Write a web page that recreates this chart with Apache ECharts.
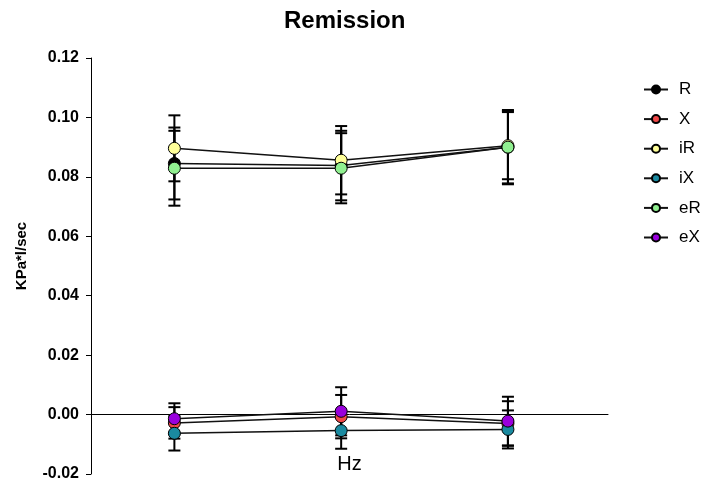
<!DOCTYPE html>
<html>
<head>
<meta charset="utf-8">
<script src="https://cdn.jsdelivr.net/npm/echarts@6/dist/echarts.min.js"></script>
<style>
html,body{margin:0;padding:0;background:#fff;}
#chart{width:708px;height:483px;}
</style>
</head>
<body>
<div id="chart"></div>
<script>
// ---- data ----
const categories = [1, 2, 3];
const seriesNames = ['R', 'X', 'iR', 'iX', 'eR', 'eX'];
const R_mean  = [0.0845, 0.0838, 0.0900];
const R_sd    = [0.0121, 0.0117, 0.0125];
const X_mean  = [-0.0028, -0.0007, -0.0030];
const X_sd    = [0.0053, 0.0073, 0.0075];
const iR_mean = [0.0896, 0.0856, 0.0905];
const iR_sd   = [0.0111, 0.0115, 0.0113];
const iX_mean = [-0.0063, -0.0054, -0.0050];
const iX_sd   = [0.0058, 0.0061, 0.0064];
const eR_mean = [0.0829, 0.0829, 0.0900];
const eR_sd   = [0.0126, 0.0118, 0.0122];
const eX_mean = [-0.0014, 0.0011, -0.0022];
const eX_sd   = [0.0052, 0.0081, 0.0082];
const yTicks  = [-0.02, 0.00, 0.02, 0.04, 0.06, 0.08, 0.10, 0.12];
const colors  = ['#000000', '#f04848', '#ffff99', '#1a8aa0', '#90f090', '#9900dd'];

const means = [R_mean, X_mean, iR_mean, iX_mean, eR_mean, eX_mean];
const sds   = [R_sd, X_sd, iR_sd, iX_sd, eR_sd, eX_sd];

const FONT = 'Arial, "Liberation Sans", sans-serif';
const chart = echarts.init(document.getElementById('chart'));

const series = [];
// error bars
seriesNames.forEach((name, i) => {
  series.push({
    type: 'custom',
    name: name + '_err',
    z: 1,
    silent: true,
    data: categories.map((c, k) => [c, means[i][k] - sds[i][k], means[i][k] + sds[i][k]]),
    renderItem: function (params, api) {
      const x = api.value(0);
      const lo = api.coord([x, api.value(1)]);
      const hi = api.coord([x, api.value(2)]);
      const hw = 6;
      const st = { stroke: '#000', lineWidth: 2 };
      return {
        type: 'group',
        children: [
          { type: 'line', shape: { x1: lo[0], y1: lo[1], x2: hi[0], y2: hi[1] }, style: st },
          { type: 'line', shape: { x1: lo[0] - hw, y1: lo[1], x2: lo[0] + hw, y2: lo[1] }, style: st },
          { type: 'line', shape: { x1: hi[0] - hw, y1: hi[1], x2: hi[0] + hw, y2: hi[1] }, style: st }
        ]
      };
    }
  });
});
// lines + markers
seriesNames.forEach((name, i) => {
  series.push({
    type: 'line',
    name: name,
    z: 3,
    data: categories.map((c, k) => [c, means[i][k]]),
    symbol: 'circle',
    symbolSize: 12,
    showSymbol: true,
    lineStyle: { color: '#111', width: 1.5 },
    itemStyle: { color: colors[i], borderColor: '#000', borderWidth: 1 },
    emphasis: { disabled: true },
    animation: false
  });
});

chart.setOption({
  animation: false,
  backgroundColor: '#fff',
  title: {
    text: 'Remission',
    left: 279,
    top: 4,
    textStyle: { fontFamily: FONT, fontSize: 24, fontWeight: 'bold', color: '#000' }
  },
  legend: {
    data: seriesNames,
    orient: 'vertical',
    left: 638,
    top: 76,
    itemWidth: 24,
    itemHeight: 10,
    itemGap: 12.6,
    textStyle: { fontFamily: FONT, fontSize: 17, color: '#000', padding: [0, 0, 0, 6] }
  },
  grid: { left: 91, right: 100, top: 58, bottom: 9, containLabel: false, outerBoundsMode: 'none' },
  xAxis: {
    type: 'value',
    min: 0.5,
    max: 3.6,
    axisLine: { show: true, onZero: true, lineStyle: { color: '#000', width: 1 } },
    axisTick: { show: false },
    axisLabel: { show: false },
    splitLine: { show: false },
    name: 'Hz',
    nameLocation: 'middle',
    nameGap: -20,
    nameTextStyle: { fontFamily: FONT, fontSize: 20, color: '#000' }
  },
  yAxis: {
    type: 'value',
    min: yTicks[0],
    max: yTicks[yTicks.length - 1],
    interval: 0.02,
    axisLine: { show: true, onZero: false, lineStyle: { color: '#000', width: 1 } },
    axisTick: { show: true, length: 5, lineStyle: { color: '#000' } },
    axisLabel: {
      fontFamily: FONT, fontSize: 16, fontWeight: 'bold', color: '#000', margin: 12,
      formatter: v => v.toFixed(2)
    },
    splitLine: { show: false },
    name: 'KPa*l/sec',
    nameLocation: 'middle',
    nameGap: 62,
    nameRotate: 90,
    nameTextStyle: { fontFamily: FONT, fontSize: 15, fontWeight: 'bold', color: '#000', padding: [0, 0, 0, 20] }
  },
  series: series
});
</script>
</body>
</html>
